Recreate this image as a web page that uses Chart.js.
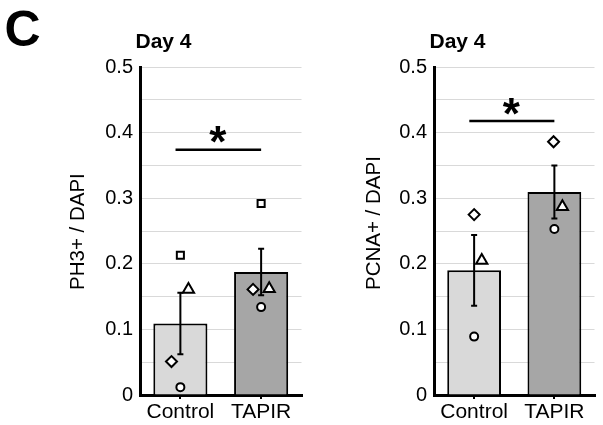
<!DOCTYPE html>
<html>
<head>
<meta charset="utf-8">
<script src="https://cdn.jsdelivr.net/npm/chart.js@4/dist/chart.umd.min.js"></script>
<style>
  html, body { margin: 0; padding: 0; background: #fff; }
  body { width: 603px; height: 425px; position: relative; overflow: hidden; }
  canvas { position: absolute; top: 0; }
  #c1 { left: 0; }
  #c2 { left: 300px; }
</style>
</head>
<body>
<canvas id="c1" width="310" height="425"></canvas>
<canvas id="c2" width="303" height="425"></canvas>
<script>
// ---- data ----
const categories = ['Control', 'TAPIR'];
const yTickLabels = ['0', '0.1', '0.2', '0.3', '0.4', '0.5'];
const panelLetter = 'C';
const panelTitle = 'Day 4';

// PH3+ / DAPI
const ph3Mean = [0.109, 0.1875];
const ph3Sem = [0.047, 0.0355];
const ph3Square = [0.213, 0.292];
const ph3Triangle = [0.161, 0.162];
const ph3Diamond = [0.051, 0.161];
const ph3Circle = [0.012, 0.134];
const ph3Sig = 0.374;

// PCNA+ / DAPI
const pcnaMean = [0.190, 0.3095];
const pcnaSem = [0.054, 0.0405];
const pcnaTriangle = [0.205, 0.287];
const pcnaDiamond = [0.275, 0.386];
const pcnaCircle = [0.089, 0.253];
const pcnaSig = 0.4175;

// ---- style ----
const FONT = "'Liberation Sans', Arial, sans-serif";
const barColors = ['#d9d9d9', '#a6a6a6'];

function pts(values, jitter) {
  return values.map((v, i) => ({ x: i + jitter[i], y: v }));
}
function markerSet(label, values, style, radius, jitter) {
  return {
    type: 'scatter', label, data: pts(values, jitter), xAxisID: 'xs',
    pointStyle: style, pointRadius: radius, pointHoverRadius: radius,
    pointBackgroundColor: '#fff', pointBorderColor: '#000', pointBorderWidth: 2,
    showLine: false, order: 0
  };
}

const overlay = {
  id: 'overlay',
  afterDatasetDraw(chart, args, opts) {
    if (args.index !== 0) return;
    const ctx = chart.ctx, x = chart.scales.x, y = chart.scales.y;
    ctx.save();
    ctx.strokeStyle = '#000'; ctx.lineWidth = 2;
    opts.mean.forEach((m, i) => {
      const cx = x.getPixelForValue(i);
      const yt = y.getPixelForValue(m + opts.sem[i]);
      const yb = y.getPixelForValue(m - opts.sem[i]);
      ctx.beginPath();
      ctx.moveTo(cx, yt); ctx.lineTo(cx, yb);
      ctx.moveTo(cx - 3, yt); ctx.lineTo(cx + 3, yt);
      ctx.moveTo(cx - 3, yb); ctx.lineTo(cx + 3, yb);
      ctx.stroke();
    });
    ctx.restore();
  },
  afterDraw(chart, args, opts) {
    const ctx = chart.ctx, xs = chart.scales.xs, y = chart.scales.y;
    const area = chart.chartArea;
    ctx.save();
    // significance bar
    const ly = y.getPixelForValue(opts.sig);
    ctx.strokeStyle = '#000'; ctx.lineWidth = 2.5;
    ctx.beginPath();
    ctx.moveTo(xs.getPixelForValue(-0.06), ly);
    ctx.lineTo(xs.getPixelForValue(1.0), ly);
    ctx.stroke();
    // asterisk
    ctx.fillStyle = '#000';
    ctx.font = 'bold 44px ' + FONT;
    ctx.textAlign = 'left'; ctx.textBaseline = 'alphabetic';
    const m = ctx.measureText('*');
    const cx = xs.getPixelForValue(0.47), cy = ly - 15;
    const bx = cx - (m.actualBoundingBoxRight - m.actualBoundingBoxLeft) / 2 + m.actualBoundingBoxLeft;
    const by = cy + (m.actualBoundingBoxAscent - m.actualBoundingBoxDescent) / 2;
    ctx.fillText('*', bx, by);
    // panel title
    ctx.font = 'bold 21px ' + FONT;
    ctx.fillText(panelTitle, area.left - 4.5, 47.5);
    if (opts.letter) {
      ctx.font = 'bold 50px ' + FONT;
      ctx.fillText(panelLetter, 4.5, 46);
    }
    // y-axis title (rotated, text end aligned ~105px above the x axis)
    ctx.translate(opts.titleX, area.bottom - 105);
    ctx.rotate(-Math.PI / 2);
    ctx.font = '20.5px ' + FONT;
    ctx.textAlign = 'left'; ctx.textBaseline = 'middle';
    ctx.fillText(opts.yTitle, 0, 0);
    ctx.restore();
  }
};

function makeChart(id, cfg) {
  const datasets = [{
    type: 'bar', label: 'mean', data: cfg.mean, backgroundColor: barColors,
    borderColor: '#000', borderWidth: 2, barPercentage: 0.67, categoryPercentage: 1,
    grouped: false, xAxisID: 'x', yAxisID: 'y', order: 10
  }].concat(cfg.markers);
  return new Chart(document.getElementById(id), {
    type: 'bar',
    data: { labels: categories, datasets },
    plugins: [overlay],
    options: {
      responsive: false, animation: false, events: [],
      layout: { padding: { top: 67, right: 3, left: 0, bottom: 0 } },
      plugins: {
        legend: { display: false }, tooltip: { enabled: false }, title: { display: false },
        overlay: { mean: cfg.mean, sem: cfg.sem, sig: cfg.sig, letter: cfg.letter, yTitle: cfg.yTitle, titleX: cfg.titleX }
      },
      scales: {
        x: {
          type: 'category', offset: true,
          afterFit: s => { s.height = 30; },
          grid: { display: true, drawOnChartArea: false, drawTicks: true, tickLength: 4, color: '#000', lineWidth: 2, offset: false },
          border: { display: true, color: '#000', width: 3 },
          ticks: { color: '#000', font: { family: FONT, size: 21 }, padding: 1, maxRotation: 0 }
        },
        xs: { type: 'linear', display: false, offset: false, grid: { offset: false }, min: -0.5, max: 1.5 },
        y: {
          min: 0, max: 0.5,
          afterFit: s => { s.width = cfg.axisWidth; },
          grid: { color: '#d9d9d9', lineWidth: 1, drawTicks: false },
          border: { display: true, color: '#000', width: 3 },
          ticks: {
            stepSize: 0.05, autoSkip: false, padding: 7, color: '#000',
            font: { family: FONT, size: 20 },
            callback: (v, i) => (i % 2 === 0 ? yTickLabels[i / 2] : '')
          },
          title: { display: false }
        }
      }
    }
  });
}

makeChart('c1', {
  mean: ph3Mean, sem: ph3Sem, sig: ph3Sig, letter: true,
  axisWidth: 140, titleX: 78, yTitle: 'PH3+ / DAPI',
  markers: [
    markerSet('square', ph3Square, 'rect', 5, [0, 0]),
    markerSet('triangle', ph3Triangle, 'triangle', 6.5, [0.1, 0.1]),
    markerSet('diamond', ph3Diamond, 'rectRot', 5.5, [-0.11, -0.1]),
    markerSet('circle', ph3Circle, 'circle', 4, [0, 0])
  ]
});

makeChart('c2', {
  mean: pcnaMean, sem: pcnaSem, sig: pcnaSig, letter: false,
  axisWidth: 134, titleX: 74, yTitle: 'PCNA+ / DAPI',
  markers: [
    markerSet('triangle', pcnaTriangle, 'triangle', 6.5, [0.095, 0.1]),
    markerSet('diamond', pcnaDiamond, 'rectRot', 5.5, [0, -0.01]),
    markerSet('circle', pcnaCircle, 'circle', 4, [0, 0])
  ]
});
</script>
</body>
</html>
